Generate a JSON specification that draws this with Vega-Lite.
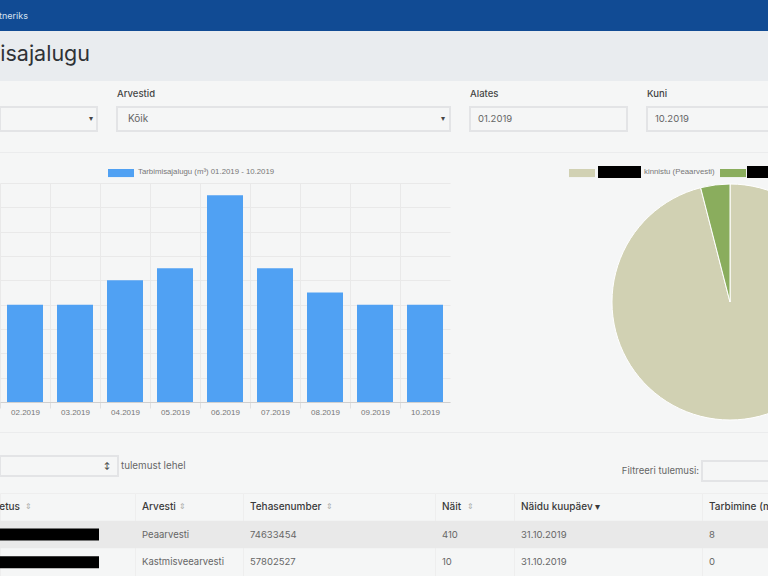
{
  "$schema": "https://vega.github.io/schema/vega-lite/v6.json",
  "padding": {"left": -1, "top": 0, "right": 0, "bottom": 0},
  "background": "#f5f6f6",
  "config": {"view": {"stroke": null}, "text": {"font": "Inter", "fontSize": 9.5, "color": "#666666"}},
  "datasets": {
    "usage": [
      {"month": "02.2019", "m3": 8},
      {"month": "03.2019", "m3": 8},
      {"month": "04.2019", "m3": 10},
      {"month": "05.2019", "m3": 11},
      {"month": "06.2019", "m3": 17},
      {"month": "07.2019", "m3": 11},
      {"month": "08.2019", "m3": 9},
      {"month": "09.2019", "m3": 8},
      {"month": "10.2019", "m3": 8}
    ],
    "meters": [
      {"meter": "Peaarvesti", "share": 96},
      {"meter": "Kastmisveearvesti", "share": 4}
    ],
    "table": [
      {"col": "Nimetus", "row": "päis", "value": "Nimetus"},
      {"col": "Nimetus", "row": "1", "value": "peidetud"},
      {"col": "Nimetus", "row": "2", "value": "peidetud"},
      {"col": "Arvesti", "row": "päis", "value": "Arvesti"},
      {"col": "Arvesti", "row": "1", "value": "Peaarvesti"},
      {"col": "Arvesti", "row": "2", "value": "Kastmisveearvesti"},
      {"col": "Tehasenumber", "row": "päis", "value": "Tehasenumber"},
      {"col": "Tehasenumber", "row": "1", "value": "74633454"},
      {"col": "Tehasenumber", "row": "2", "value": "57802527"},
      {"col": "Näit", "row": "päis", "value": "Näit"},
      {"col": "Näit", "row": "1", "value": "410"},
      {"col": "Näit", "row": "2", "value": "10"},
      {"col": "Kuupäev", "row": "päis", "value": "Näidu kuupäev ▾"},
      {"col": "Kuupäev", "row": "1", "value": "31.10.2019"},
      {"col": "Kuupäev", "row": "2", "value": "31.10.2019"},
      {"col": "Tarbimine", "row": "päis", "value": "Tarbimine (m³)"},
      {"col": "Tarbimine", "row": "1", "value": "8"},
      {"col": "Tarbimine", "row": "2", "value": "0"}
    ]
  },
  "spacing": 0,
  "vconcat": [
    {
      "width": 768, "height": 31,
      "view": {"fill": "#114b94"},
      "data": {"values": [{"label": "Partneriks"}]},
      "mark": {"type": "text", "align": "right", "dx": 28, "fontSize": 9, "color": "#d7e2f0", "clip": true},
      "encoding": {
        "x": {"field": "label", "type": "nominal", "axis": null, "scale": {"type": "point", "padding": 0, "align": 0}},
        "text": {"field": "label"}
      }
    },
    {
      "width": 768, "height": 50,
      "view": {"fill": "#e9ecef"},
      "data": {"values": [{"label": "Tarbimisajalugu"}]},
      "mark": {"type": "text", "align": "right", "dx": 90, "dy": -1, "fontSize": 21.5, "color": "#2f3236", "clip": true},
      "encoding": {
        "x": {"field": "label", "type": "nominal", "axis": null, "scale": {"type": "point", "padding": 0, "align": 0}},
        "text": {"field": "label"}
      }
    },
    {"width": 768, "height": 6, "data": {"values": []}, "mark": "rect"},
    {
      "bounds": "flush",
      "spacing": 20,
      "hconcat": [
        {
          "width": 97, "height": 24,
          "view": {"stroke": "#e3e4e6", "strokeWidth": 2},
          "data": {"values": [{"caret": "▾"}]},
          "mark": {"type": "text", "align": "right", "dx": -4, "fontSize": 8, "color": "#444444"},
          "encoding": {
            "x": {"field": "caret", "type": "nominal", "axis": null, "scale": {"type": "point", "padding": 0, "align": 1}},
            "text": {"field": "caret"}
          }
        },
        {
          "width": 333, "height": 24,
          "view": {"stroke": "#e3e4e6", "strokeWidth": 2},
          "title": {"text": "Arvestid", "anchor": "start", "fontSize": 9.5, "fontWeight": 500, "font": "Inter", "color": "#444444", "offset": 9},
          "data": {"values": [{"selected": "Kõik", "caret": "▾"}]},
          "layer": [
            {
              "mark": {"type": "text", "align": "left", "dx": 11, "fontSize": 10},
              "encoding": {
                "x": {"field": "selected", "type": "nominal", "axis": null, "scale": {"type": "point", "padding": 0, "align": 0}},
                "text": {"field": "selected"}
              }
            },
            {
              "mark": {"type": "text", "align": "left", "dx": 324, "fontSize": 8, "color": "#444444"},
              "encoding": {
                "x": {"field": "selected", "type": "nominal", "axis": null, "scale": {"type": "point", "padding": 0, "align": 0}},
                "text": {"field": "caret"}
              }
            }
          ]
        },
        {
          "width": 157, "height": 24,
          "view": {"stroke": "#e3e4e6", "strokeWidth": 2},
          "title": {"text": "Alates", "anchor": "start", "fontSize": 9.5, "fontWeight": 500, "font": "Inter", "color": "#444444", "offset": 9},
          "data": {"values": [{"from": "01.2019"}]},
          "mark": {"type": "text", "align": "left", "dx": 8},
          "encoding": {
            "x": {"field": "from", "type": "nominal", "axis": null, "scale": {"type": "point", "padding": 0, "align": 0}},
            "text": {"field": "from"}
          }
        },
        {
          "width": 140, "height": 24,
          "view": {"stroke": "#e3e4e6", "strokeWidth": 2},
          "title": {"text": "Kuni", "anchor": "start", "fontSize": 9.5, "fontWeight": 500, "font": "Inter", "color": "#444444", "offset": 9},
          "data": {"values": [{"to": "10.2019"}]},
          "mark": {"type": "text", "align": "left", "dx": 8},
          "encoding": {
            "x": {"field": "to", "type": "nominal", "axis": null, "scale": {"type": "point", "padding": 0, "align": 0}},
            "text": {"field": "to"}
          }
        }
      ]
    },
    {"width": 768, "height": 20, "data": {"values": []}, "mark": "rect"},
    {"width": 768, "height": 1, "view": {"fill": "#ebeced"}, "data": {"values": []}, "mark": "rect"},
    {"width": 768, "height": 13, "data": {"values": []}, "mark": "rect"},
    {
      "bounds": "flush",
      "spacing": 0,
      "hconcat": [
        {"width": 108, "height": 12, "data": {"values": []}, "mark": "rect"},
        {
          "width": 26, "height": 12,
          "data": {"values": [{"series": "Tarbimisajalugu"}]},
          "mark": {"type": "point", "filled": true, "opacity": 1, "size": 676, "color": "#50a1f3", "shape": "M-1,-0.23H1V0.39H-1Z"}
        },
        {
          "width": 435, "height": 12,
          "data": {"values": [{"series": "Tarbimisajalugu (m³) 01.2019 - 10.2019"}]},
          "mark": {"type": "text", "align": "left", "dx": 4, "font": "Liberation Sans", "fontSize": 7.8, "color": "#777777"},
          "encoding": {
            "x": {"field": "series", "type": "nominal", "axis": null, "scale": {"type": "point", "padding": 0, "align": 0}},
            "text": {"field": "series"}
          }
        },
        {
          "width": 26, "height": 12,
          "data": {"values": [{"series": "Peaarvesti"}]},
          "mark": {"type": "point", "filled": true, "opacity": 1, "size": 676, "color": "#d1d1b3", "shape": "M-1,-0.23H1V0.39H-1Z"}
        },
        {"width": 3, "height": 12, "data": {"values": []}, "mark": "rect"},
        {"width": 43, "height": 12, "view": {"fill": "#000000"}, "data": {"values": []}, "mark": "rect"},
        {
          "width": 79, "height": 12,
          "data": {"values": [{"series": "kinnistu (Peaarvesti)"}]},
          "mark": {"type": "text", "align": "left", "dx": 3, "font": "Liberation Sans", "fontSize": 7.8, "color": "#777777"},
          "encoding": {
            "x": {"field": "series", "type": "nominal", "axis": null, "scale": {"type": "point", "padding": 0, "align": 0}},
            "text": {"field": "series"}
          }
        },
        {
          "width": 26, "height": 12,
          "data": {"values": [{"series": "Kastmisveearvesti"}]},
          "mark": {"type": "point", "filled": true, "opacity": 1, "size": 676, "color": "#8aad5d", "shape": "M-1,-0.23H1V0.39H-1Z"}
        },
        {"width": 1, "height": 12, "data": {"values": []}, "mark": "rect"},
        {"width": 43, "height": 12, "view": {"fill": "#000000"}, "data": {"values": []}, "mark": "rect"}
      ]
    },
    {"width": 768, "height": 4, "data": {"values": []}, "mark": "rect"},
    {
      "bounds": "flush",
      "spacing": 162,
      "hconcat": [
        {
          "width": 450, "height": 219,
          "data": {"name": "usage"},
          "mark": {"type": "bar", "color": "#50a1f3"},
          "encoding": {
            "x": {
              "field": "month", "type": "ordinal",
              "scale": {"type": "band", "paddingInner": 0.28, "paddingOuter": 0.14},
              "axis": {
                "title": null, "labelAngle": 0, "tickBand": "center", "tickOffset": -25, "labelOffset": 25, "grid": true, "gridColor": "#e9e9e9",
                "domainColor": "#d0d0d0", "tickColor": "#e0e0e0", "tickSize": 6, "labelPadding": 0,
                "labelFont": "Liberation Sans", "labelFontSize": 8, "labelColor": "#777777"
              }
            },
            "y": {
              "field": "m3", "type": "quantitative",
              "scale": {"domain": [0, 18]},
              "axis": {
                "title": null, "values": [0, 2, 4, 6, 8, 10, 12, 14, 16, 18], "labels": false, "ticks": false,
                "domain": false, "grid": true, "gridColor": "#e9e9e9"
              }
            }
          }
        },
        {
          "width": 236, "height": 238,
          "data": {"name": "meters"},
          "mark": {"type": "arc", "outerRadius": 118, "stroke": "#ffffff", "strokeWidth": 1},
          "encoding": {
            "theta": {"field": "share", "type": "quantitative", "stack": true},
            "order": {"field": "share", "type": "quantitative", "sort": "descending"},
            "color": {
              "field": "meter", "type": "nominal", "legend": null,
              "scale": {"domain": ["Peaarvesti", "Kastmisveearvesti"], "range": ["#d1d1b3", "#8aad5d"]}
            }
          }
        }
      ]
    },
    {"width": 768, "height": 10, "data": {"values": []}, "mark": "rect"},
    {"width": 768, "height": 1, "view": {"fill": "#ebeced"}, "data": {"values": []}, "mark": "rect"},
    {"width": 768, "height": 22, "data": {"values": []}, "mark": "rect"},
    {
      "bounds": "flush",
      "spacing": 0,
      "hconcat": [
        {
          "width": 118, "height": 20,
          "view": {"stroke": "#e3e4e6", "strokeWidth": 2},
          "data": {"values": [{"caret": "↕"}]},
          "mark": {"type": "text", "align": "right", "dx": -8, "fontSize": 7, "fontWeight": 700, "color": "#444444"},
          "encoding": {
            "x": {"field": "caret", "type": "nominal", "axis": null, "scale": {"type": "point", "padding": 0, "align": 1}},
            "text": {"field": "caret"}
          }
        },
        {
          "width": 584, "height": 20,
          "data": {"values": [{"label": "tulemust lehel"}]},
          "mark": {"type": "text", "align": "left", "dx": 3, "fontSize": 9.8},
          "encoding": {
            "x": {"field": "label", "type": "nominal", "axis": null, "scale": {"type": "point", "padding": 0, "align": 0}},
            "text": {"field": "label"}
          }
        },
        {
          "bounds": "flush",
          "spacing": 0,
          "vconcat": [
            {"width": 80, "height": 5, "data": {"values": []}, "mark": "rect"},
            {
              "width": 80, "height": 20,
              "view": {"stroke": "#e3e4e6", "strokeWidth": 2},
              "data": {"values": [{"label": "Filtreeri tulemusi:"}]},
              "mark": {"type": "text", "align": "right", "dx": -3},
              "encoding": {
                "x": {"field": "label", "type": "nominal", "axis": null, "scale": {"type": "point", "padding": 0, "align": 0}},
                "text": {"field": "label"}
              }
            }
          ]
        }
      ]
    },
    {"width": 768, "height": 10, "data": {"values": []}, "mark": "rect"},
    {
      "bounds": "flush",
      "spacing": 0,
      "hconcat": [
        {
          "width": 135, "height": 83,
          "view": {"stroke": "#eeeeee"},
          "data": {"name": "table"},
          "transform": [{"filter": {"field": "col", "equal": "Nimetus"}}],
          "layer": [
            {
              "transform": [{"filter": {"field": "row", "equal": "1"}}],
              "mark": {"type": "rect", "color": "#e9e9e9"},
              "encoding": {"y": {"field": "row", "type": "nominal", "axis": null, "scale": {"domain": ["päis", "1", "2"], "type": "band", "padding": 0}}}
            },
            {
              "transform": [{"filter": {"field": "row", "oneOf": ["1", "2"]}}],
              "mark": {"type": "rect", "color": "#000000", "height": 12},
              "encoding": {
                "x": {"field": "col", "type": "nominal", "axis": null, "scale": {"type": "band", "paddingInner": 0, "paddingOuter": 0.1818, "align": 0}},
                "y": {"field": "row", "type": "nominal", "axis": null, "scale": {"domain": ["päis", "1", "2"], "type": "band", "padding": 0}}
              }
            },
            {
              "transform": [{"filter": {"field": "row", "equal": "päis"}}],
              "mark": {"type": "text", "align": "right", "dx": 20, "fontSize": 10, "fontWeight": 500, "color": "#3a3a3a", "clip": true},
              "encoding": {
                "x": {"field": "col", "type": "nominal", "axis": null, "bandPosition": 0},
                "y": {"field": "row", "type": "nominal", "axis": null},
                "text": {"field": "value"}
              }
            },
            {
              "transform": [{"filter": {"field": "row", "equal": "päis"}}],
              "mark": {"type": "text", "align": "center", "dx": 28, "fontSize": 8, "color": "#aaaaaa"},
              "encoding": {
                "x": {"field": "col", "type": "nominal", "axis": null, "bandPosition": 0},
                "y": {"field": "row", "type": "nominal", "axis": null},
                "text": {"value": "⇕"}
              }
            }
          ]
        },
        {
          "width": 108, "height": 83,
          "view": {"stroke": "#eeeeee"},
          "data": {"name": "table"},
          "transform": [{"filter": {"field": "col", "equal": "Arvesti"}}],
          "layer": [
            {
              "transform": [{"filter": {"field": "row", "equal": "1"}}],
              "mark": {"type": "rect", "color": "#e9e9e9"},
              "encoding": {"y": {"field": "row", "type": "nominal", "axis": null, "scale": {"domain": ["päis", "1", "2"], "type": "band", "padding": 0}}}
            },
            {
              "transform": [{"filter": {"field": "row", "oneOf": ["1", "2"]}}],
              "mark": {"type": "text", "align": "left", "dx": 7},
              "encoding": {
                "x": {"field": "col", "type": "nominal", "axis": null, "scale": {"type": "point", "padding": 0, "align": 0}},
                "y": {"field": "row", "type": "nominal", "axis": null},
                "text": {"field": "value"}
              }
            },
            {
              "transform": [{"filter": {"field": "row", "equal": "päis"}}],
              "mark": {"type": "text", "align": "left", "dx": 7, "fontSize": 10, "fontWeight": 500, "color": "#3a3a3a"},
              "encoding": {
                "x": {"field": "col", "type": "nominal", "axis": null},
                "y": {"field": "row", "type": "nominal", "axis": null},
                "text": {"field": "value"}
              }
            },
            {
              "transform": [{"filter": {"field": "row", "equal": "päis"}}],
              "mark": {"type": "text", "align": "center", "dx": 47, "fontSize": 8, "color": "#aaaaaa"},
              "encoding": {
                "x": {"field": "col", "type": "nominal", "axis": null},
                "y": {"field": "row", "type": "nominal", "axis": null},
                "text": {"value": "⇕"}
              }
            }
          ]
        },
        {
          "width": 192, "height": 83,
          "view": {"stroke": "#eeeeee"},
          "data": {"name": "table"},
          "transform": [{"filter": {"field": "col", "equal": "Tehasenumber"}}],
          "layer": [
            {
              "transform": [{"filter": {"field": "row", "equal": "1"}}],
              "mark": {"type": "rect", "color": "#e9e9e9"},
              "encoding": {"y": {"field": "row", "type": "nominal", "axis": null, "scale": {"domain": ["päis", "1", "2"], "type": "band", "padding": 0}}}
            },
            {
              "transform": [{"filter": {"field": "row", "oneOf": ["1", "2"]}}],
              "mark": {"type": "text", "align": "left", "dx": 7},
              "encoding": {
                "x": {"field": "col", "type": "nominal", "axis": null, "scale": {"type": "point", "padding": 0, "align": 0}},
                "y": {"field": "row", "type": "nominal", "axis": null},
                "text": {"field": "value"}
              }
            },
            {
              "transform": [{"filter": {"field": "row", "equal": "päis"}}],
              "mark": {"type": "text", "align": "left", "dx": 7, "fontSize": 10, "fontWeight": 500, "color": "#3a3a3a"},
              "encoding": {
                "x": {"field": "col", "type": "nominal", "axis": null},
                "y": {"field": "row", "type": "nominal", "axis": null},
                "text": {"field": "value"}
              }
            },
            {
              "transform": [{"filter": {"field": "row", "equal": "päis"}}],
              "mark": {"type": "text", "align": "center", "dx": 86, "fontSize": 8, "color": "#aaaaaa"},
              "encoding": {
                "x": {"field": "col", "type": "nominal", "axis": null},
                "y": {"field": "row", "type": "nominal", "axis": null},
                "text": {"value": "⇕"}
              }
            }
          ]
        },
        {
          "width": 79, "height": 83,
          "view": {"stroke": "#eeeeee"},
          "data": {"name": "table"},
          "transform": [{"filter": {"field": "col", "equal": "Näit"}}],
          "layer": [
            {
              "transform": [{"filter": {"field": "row", "equal": "1"}}],
              "mark": {"type": "rect", "color": "#e9e9e9"},
              "encoding": {"y": {"field": "row", "type": "nominal", "axis": null, "scale": {"domain": ["päis", "1", "2"], "type": "band", "padding": 0}}}
            },
            {
              "transform": [{"filter": {"field": "row", "oneOf": ["1", "2"]}}],
              "mark": {"type": "text", "align": "left", "dx": 7},
              "encoding": {
                "x": {"field": "col", "type": "nominal", "axis": null, "scale": {"type": "point", "padding": 0, "align": 0}},
                "y": {"field": "row", "type": "nominal", "axis": null},
                "text": {"field": "value"}
              }
            },
            {
              "transform": [{"filter": {"field": "row", "equal": "päis"}}],
              "mark": {"type": "text", "align": "left", "dx": 7, "fontSize": 10, "fontWeight": 500, "color": "#3a3a3a"},
              "encoding": {
                "x": {"field": "col", "type": "nominal", "axis": null},
                "y": {"field": "row", "type": "nominal", "axis": null},
                "text": {"field": "value"}
              }
            },
            {
              "transform": [{"filter": {"field": "row", "equal": "päis"}}],
              "mark": {"type": "text", "align": "center", "dx": 35, "fontSize": 8, "color": "#aaaaaa"},
              "encoding": {
                "x": {"field": "col", "type": "nominal", "axis": null},
                "y": {"field": "row", "type": "nominal", "axis": null},
                "text": {"value": "⇕"}
              }
            }
          ]
        },
        {
          "width": 188, "height": 83,
          "view": {"stroke": "#eeeeee"},
          "data": {"name": "table"},
          "transform": [{"filter": {"field": "col", "equal": "Kuupäev"}}],
          "layer": [
            {
              "transform": [{"filter": {"field": "row", "equal": "1"}}],
              "mark": {"type": "rect", "color": "#e9e9e9"},
              "encoding": {"y": {"field": "row", "type": "nominal", "axis": null, "scale": {"domain": ["päis", "1", "2"], "type": "band", "padding": 0}}}
            },
            {
              "transform": [{"filter": {"field": "row", "oneOf": ["1", "2"]}}],
              "mark": {"type": "text", "align": "left", "dx": 7},
              "encoding": {
                "x": {"field": "col", "type": "nominal", "axis": null, "scale": {"type": "point", "padding": 0, "align": 0}},
                "y": {"field": "row", "type": "nominal", "axis": null},
                "text": {"field": "value"}
              }
            },
            {
              "transform": [{"filter": {"field": "row", "equal": "päis"}}],
              "mark": {"type": "text", "align": "left", "dx": 7, "fontSize": 10, "fontWeight": 500, "color": "#3a3a3a"},
              "encoding": {
                "x": {"field": "col", "type": "nominal", "axis": null},
                "y": {"field": "row", "type": "nominal", "axis": null},
                "text": {"field": "value"}
              }
            }
          ]
        },
        {
          "width": 100, "height": 83,
          "view": {"stroke": "#eeeeee"},
          "data": {"name": "table"},
          "transform": [{"filter": {"field": "col", "equal": "Tarbimine"}}],
          "layer": [
            {
              "transform": [{"filter": {"field": "row", "equal": "1"}}],
              "mark": {"type": "rect", "color": "#e9e9e9"},
              "encoding": {"y": {"field": "row", "type": "nominal", "axis": null, "scale": {"domain": ["päis", "1", "2"], "type": "band", "padding": 0}}}
            },
            {
              "transform": [{"filter": {"field": "row", "oneOf": ["1", "2"]}}],
              "mark": {"type": "text", "align": "left", "dx": 7},
              "encoding": {
                "x": {"field": "col", "type": "nominal", "axis": null, "scale": {"type": "point", "padding": 0, "align": 0}},
                "y": {"field": "row", "type": "nominal", "axis": null},
                "text": {"field": "value"}
              }
            },
            {
              "transform": [{"filter": {"field": "row", "equal": "päis"}}],
              "mark": {"type": "text", "align": "left", "dx": 7, "fontSize": 10, "fontWeight": 500, "color": "#3a3a3a"},
              "encoding": {
                "x": {"field": "col", "type": "nominal", "axis": null},
                "y": {"field": "row", "type": "nominal", "axis": null},
                "text": {"field": "value"}
              }
            }
          ]
        }
      ]
    }
  ]
}
